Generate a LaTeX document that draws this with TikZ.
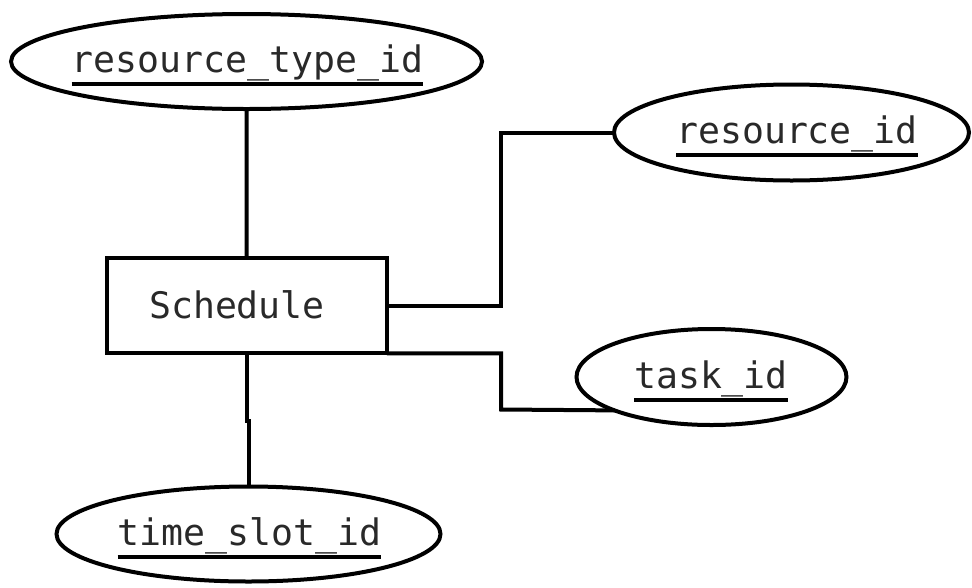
\documentclass[tikz,border=0pt]{standalone}
\usepackage{fontspec}
\newfontfamily\ermono{DejaVu Sans Mono}
\usetikzlibrary{shapes.geometric}
\definecolor{ertext}{rgb}{0.16,0.16,0.16}
% key attribute: text with a heavy underline below it
\newcommand\keyattr[1]{\setbox0\hbox{#1}\rlap{\color{black}\rule[-13.5pt]{\wd0}{4pt}}\box0}
\tikzset{
  er/.style={line width=4pt, draw=black},
  attr/.style={er, ellipse, inner sep=0pt, outer sep=0pt},
  entity/.style={er, rectangle, inner sep=0pt, outer sep=0pt,
    minimum width=280pt, minimum height=95pt},
  erlabel/.style={anchor=base, inner sep=0pt, text=ertext,
    font=\ermono\fontsize{36.5}{40}\selectfont},
  link/.style={line width=4pt, line join=miter},
}
\begin{document}
\begin{tikzpicture}[x=1pt,y=-1pt]
  \useasboundingbox (0,0) rectangle (972,587);
  \fill[white] (0,0) rectangle (972,587);

  % entity
  \node[entity] (sched) at (246.75,305.75) {};
  \node[erlabel] (schedlabel) at (237,318) {Schedule};

  % key attributes
  \node[attr, minimum width=471pt, minimum height=95pt] (rtype) at (246.5,61.5) {};
  \node[attr, minimum width=355pt, minimum height=96pt] (res) at (791.5,132.5) {};
  \node[attr, minimum width=270pt, minimum height=96pt] (task) at (711.5,377) {};
  \node[attr, minimum width=384pt, minimum height=95pt] (slot) at (248.5,534) {};

  \node[erlabel] (rtypelabel) at (247.5,72.5) {\keyattr{resource\_type\_id}};
  \node[erlabel] (reslabel) at (797,143.5) {\keyattr{resource\_id}};
  \node[erlabel] (tasklabel) at (711,388) {\keyattr{task\_id}};
  \node[erlabel] (slotlabel) at (249.5,545) {\keyattr{time\_slot\_id}};

  % connectors
  \coordinate (bendres) at (501,132.5);
  \coordinate (bendtask) at (501,409.5);
  \coordinate (bendslot) at (246.75,421);

  \draw[link] (rtype.south) -- (sched.north);
  \draw[link] (sched.east) -| (bendres) -- (res.west);
  \draw[link] (sched.south east) -| (bendtask) -- (task.199.5);
  \draw[link] (sched.south) -- (bendslot) -| (slot.north);
\end{tikzpicture}
\end{document}
